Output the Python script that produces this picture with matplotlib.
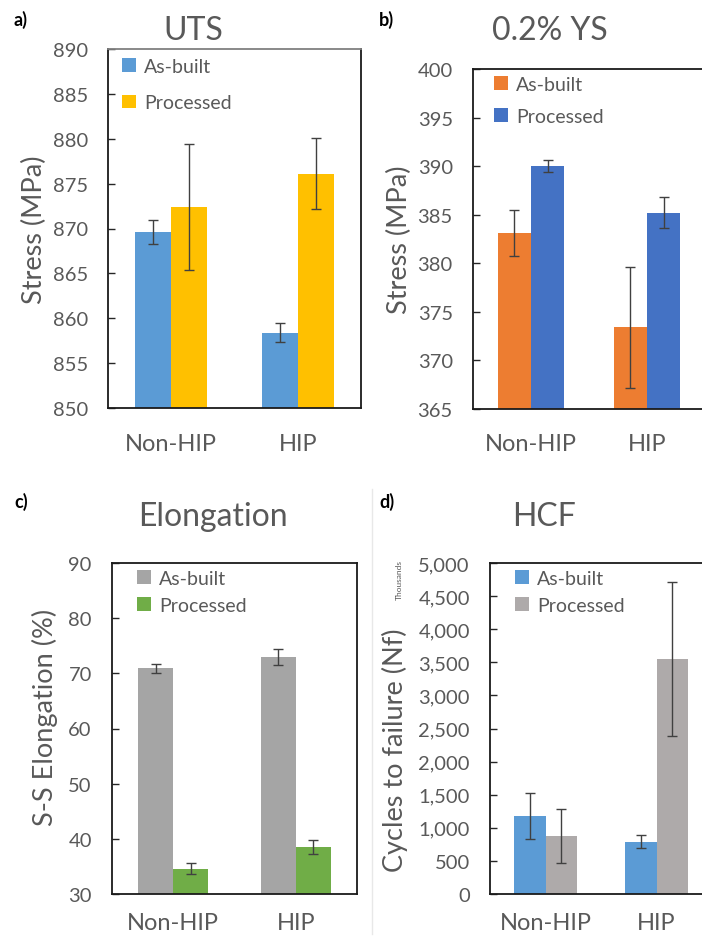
import matplotlib
matplotlib.use("Agg")
import matplotlib.pyplot as plt
import numpy as np
from matplotlib.patches import Patch
from matplotlib.lines import Line2D

plt.rcParams['font.family'] = ['Lato', 'DejaVu Sans']

categories = ["Non-HIP", "HIP"]
series_names = ["As-built", "Processed"]

uts_asbuilt = [869.6, 858.4]
uts_asbuilt_err = [1.3, 1.1]
uts_processed = [872.4, 876.1]
uts_processed_err = [7.05, 3.95]

ys_asbuilt = [383.1, 373.4]
ys_asbuilt_err = [2.35, 6.25]
ys_processed = [390.0, 385.2]
ys_processed_err = [0.65, 1.6]

el_asbuilt = [70.9, 72.9]
el_asbuilt_err = [0.8, 1.45]
el_processed = [34.6, 38.6]
el_processed_err = [0.97, 1.27]

hcf_asbuilt = [1174, 791]
hcf_asbuilt_err = [350, 96]
hcf_processed = [877, 3548]
hcf_processed_err = [408, 1162]

W, H = 702, 937
fig = plt.figure(figsize=(W / 100, H / 100), dpi=100)

TXT = '#595959'


def make_axes(left, right, top, bottom):
    return fig.add_axes([left / W, 1 - bottom / H, (right - left) / W, (bottom - top) / H])


def panel(ax, a, aerr, b, berr, colors, ylim, yticks, yfmt, xlim_right, title, title_xy,
          ylabel, ylabel_xy, letter, letter_xy, leg_xy, leg_space, xlab_pad):
    x = np.arange(len(categories))
    w = 0.286
    ax.bar(x - w / 2, a, w, color=colors[0], zorder=2)
    ax.bar(x + w / 2, b, w, color=colors[1], zorder=2)
    ekw = dict(fmt='none', ecolor='#404040', elinewidth=1.0, capsize=3.5, capthick=1.0, zorder=3)
    ax.errorbar(x - w / 2, a, yerr=aerr, **ekw)
    ax.errorbar(x + w / 2, b, yerr=berr, **ekw)
    ax.set_xlim(-0.5, xlim_right)
    ax.set_ylim(*ylim)
    ax.set_yticks(yticks)
    ax.set_yticklabels([yfmt(v) for v in yticks])
    ax.set_xticks(x)
    ax.set_xticklabels(categories)
    ax.tick_params(axis='y', direction='in', length=5, width=1, color='#262626',
                   labelsize=14.5, labelcolor=TXT, pad=14.5)
    ax.tick_params(axis='x', length=0, labelsize=17, labelcolor=TXT, pad=xlab_pad)
    for s in ax.spines.values():
        s.set_color('#1a1a1a')
        s.set_linewidth(1.3)
    fig.text(title_xy[0] / W, 1 - title_xy[1] / H, title, ha='center', va='center',
             fontsize=23, color=TXT)
    fig.text(ylabel_xy[0] / W, 1 - ylabel_xy[1] / H, ylabel, ha='center', va='center',
             rotation=90, fontsize=19.5, color=TXT)
    fig.text(letter_xy[0] / W, 1 - letter_xy[1] / H, letter, ha='left', va='center',
             fontsize=13, fontweight='bold', color='black')
    handles = [Patch(facecolor=colors[0]), Patch(facecolor=colors[1])]
    leg = ax.legend(handles, series_names, loc='upper left',
                    bbox_to_anchor=(leg_xy[0] / W, 1 - leg_xy[1] / H),
                    bbox_transform=fig.transFigure, frameon=False, fontsize=14,
                    handlelength=0.7, handleheight=0.7, handletextpad=0.45,
                    labelspacing=leg_space, borderpad=0, borderaxespad=0)
    for t in leg.get_texts():
        t.set_color(TXT)
    return ax


# a) UTS
ax_a = make_axes(108, 361, 50, 409)
panel(ax_a, uts_asbuilt, uts_asbuilt_err, uts_processed, uts_processed_err,
      ['#5B9BD5', '#FFC000'], (850, 890), np.arange(850, 891, 5), lambda v: f"{v:d}",
      1.5, "UTS", (193, 31), "Stress (MPa)", (34, 230), "a)", (14, 20), (122, 59), 1.0, 18)
ax_a.spines['top'].set_color('#808080')

# b) 0.2% YS
ax_b = make_axes(473, 705, 70, 410)
panel(ax_b, ys_asbuilt, ys_asbuilt_err, ys_processed, ys_processed_err,
      ['#ED7D31', '#4472C4'], (365, 400), np.arange(365, 401, 5), lambda v: f"{v:d}",
      1.5, "0.2% YS", (550, 31), "Stress (MPa)", (399, 240), "b)", (379, 20), (494, 77), 0.75, 17)

# c) Elongation
ax_c = make_axes(112, 357, 564, 895)
panel(ax_c, el_asbuilt, el_asbuilt_err, el_processed, el_processed_err,
      ['#A5A5A5', '#70AD47'], (30, 90), np.arange(30, 91, 10), lambda v: f"{v:d}",
      1.5, "Elongation", (213, 517), "S-S Elongation (%)", (45, 717), "c)", (14, 502), (137, 571), 0.5, 13)

# d) HCF
ax_d = make_axes(490, 712, 564, 895)
panel(ax_d, hcf_asbuilt, hcf_asbuilt_err, hcf_processed, hcf_processed_err,
      ['#5B9BD5', '#AEAAAA'], (0, 5000), np.arange(0, 5001, 500), lambda v: f"{v:,d}",
      1.5, "HCF", (544, 517), "Cycles to failure (Nf)", (395, 750), "d)", (379, 502), (515, 571), 0.5, 13)
fig.text(399 / W, 1 - 580 / H, "Thousands", rotation=90, ha='center', va='center',
         fontsize=6, color=TXT)

# faint frame edge of panel d in the source
fig.add_artist(Line2D([372 / W, 372 / W], [1 - 490 / H, 1 - 935 / H],
                      transform=fig.transFigure, color='#e8e8e8', lw=1))

fig.savefig("out.png", dpi=100)
